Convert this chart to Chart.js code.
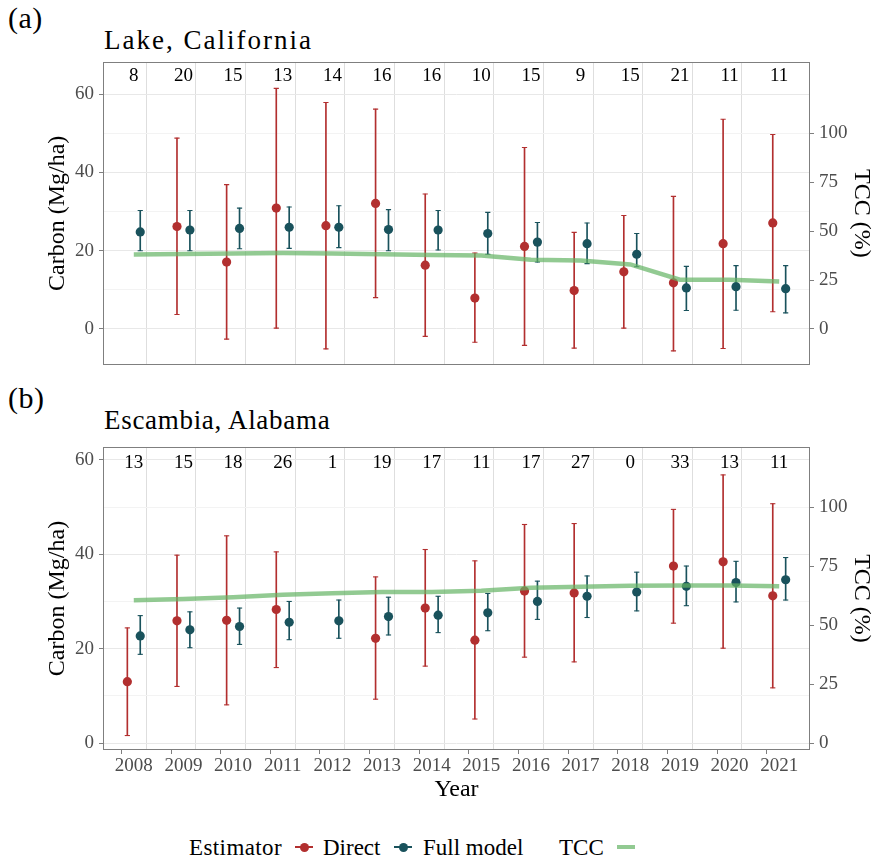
<!DOCTYPE html>
<html>
<head>
<meta charset="utf-8">
<script src="https://cdn.jsdelivr.net/npm/chart.js@4.4.1/dist/chart.umd.min.js"></script>
<style>
  body { margin:0; background:#fff; }
  #wrap { position:relative; width:881px; height:862px; font-family:'Liberation Serif', serif; color:#000; overflow:hidden; }
  .t { position:absolute; white-space:nowrap; line-height:1em; font-family:'Liberation Serif', serif; }
  canvas { position:absolute; left:0; }
  .key { position:absolute; width:18px; height:10px; }
  .key .ln { position:absolute; left:0; right:0; top:4.4px; height:1.2px; }
  .key .dt { position:absolute; left:4.5px; top:0.5px; width:9px; height:9px; border-radius:50%; }
</style>
</head>
<body>
<div id="wrap">
  <div class="t" style="left:8px;top:3px;font-size:30px;letter-spacing:0.5px">(a)</div>
  <div class="t" style="left:104px;top:27px;font-size:27px;letter-spacing:2px">Lake, California</div>
  <canvas id="ca" width="881" height="380" style="top:0px"></canvas>
  <div class="t" style="left:8px;top:383px;font-size:30px;letter-spacing:0.5px">(b)</div>
  <div class="t" style="left:104px;top:407px;font-size:27px;letter-spacing:0.7px">Escambia, Alabama</div>
  <canvas id="cb" width="881" height="430" style="top:380px"></canvas>

  <div class="t" style="left:189px;top:836px;font-size:23px;letter-spacing:0.4px">Estimator</div>
  <div class="key" style="left:295px;top:842px"><div class="ln" style="background:#b22f2f"></div><div class="dt" style="background:#b22f2f"></div></div>
  <div class="t" style="left:323px;top:836px;font-size:23px">Direct</div>
  <div class="key" style="left:394px;top:842px"><div class="ln" style="background:#19525c"></div><div class="dt" style="background:#19525c"></div></div>
  <div class="t" style="left:423px;top:836px;font-size:23px">Full model</div>
  <div class="t" style="left:559px;top:836px;font-size:23px">TCC</div>
  <div class="key" style="left:617px;top:842px"><div class="ln" style="background:rgba(100,180,100,0.7);top:3px;height:4px"></div></div>
</div>
<script>
// ---------------- data ----------------
const years = [2008,2009,2010,2011,2012,2013,2014,2015,2016,2017,2018,2019,2020,2021];

// Panel (a) Lake, California
const countsA   = [8,20,15,13,14,16,16,10,15,9,15,21,11,11];
const directA   = [null,26.2,17.1,30.9,26.4,32.1,16.3,7.9,21.1,9.8,14.6,11.8,21.8,27.1];
const directLoA = [null,3.7,-2.6,0.2,-5.1,8.0,-1.9,-3.4,-4.2,-4.9,0.2,-5.6,-5.0,4.4];
const directHiA = [null,48.8,36.9,61.5,57.9,56.2,34.5,19.4,46.4,24.7,29.0,33.9,53.6,49.7];
const fullA     = [24.8,25.3,25.7,26.0,26.0,25.4,25.3,24.4,22.2,21.8,19.1,10.5,10.8,10.3];
const fullLoA   = [20.0,20.0,20.5,20.6,20.8,20.0,20.2,19.1,17.1,16.7,15.9,4.7,4.8,4.1];
const fullHiA   = [30.3,30.3,30.9,31.2,31.5,30.5,30.3,29.8,27.2,27.1,24.4,16.0,16.2,16.2];
const tccA      = [38.1,38.3,38.6,38.8,38.6,38.2,37.8,37.6,35.4,35.0,33.0,25.2,25.2,24.3];

// Panel (b) Escambia, Alabama
const countsB   = [13,15,18,26,1,19,17,11,17,27,0,33,13,11];
const directB   = [13.0,25.9,26.0,28.3,null,22.2,28.6,21.8,32.2,31.8,null,37.5,38.4,31.2];
const directLoB = [1.6,12.0,8.1,16.0,null,9.3,16.3,5.1,18.2,17.2,null,25.4,20.1,11.7];
const directHiB = [24.4,39.8,43.9,40.5,null,35.2,41.0,38.6,46.3,46.5,null,49.5,56.8,50.7];
const fullB     = [22.7,24.0,24.7,25.6,25.9,26.8,27.1,27.6,30.0,31.1,32.0,33.2,34.0,34.6];
const fullLoB   = [18.8,20.2,20.9,21.9,22.2,22.9,23.4,23.8,26.2,26.6,28.0,29.1,29.9,30.3];
const fullHiB   = [27.0,27.8,28.6,30.0,30.3,30.9,31.1,31.7,34.3,35.4,36.2,37.5,38.5,39.3];
const tccB      = [60.5,61.0,61.8,62.8,63.5,64.0,64.0,64.5,65.8,66.2,66.6,66.8,66.8,66.4];

// tick labels
const carbonTicks = [0,20,40,60];
const carbonMinorTicks = [10,30,50];
const tccTicks = [0,25,50,75,100];

// ---------------- styling ----------------
const RED = '#b22f2f';
const TEAL = '#19525c';
const GREEN = 'rgba(100,180,100,0.7)';
const FONT = 'Liberation Serif';
const TICKCOL = '#4d4d4d';
const AXCOL = '#7f7f7f';
const DODGE = 0.13;
const TCC_FACTOR = 2;

Chart.defaults.font.family = FONT;
Chart.defaults.animation = false;

function pts(vals, off) {
  const out = [];
  vals.forEach((v, i) => { if (v !== null) out.push({x: years[i] + off, y: v}); });
  return out;
}
function bars(lo, hi, off) {
  const out = [];
  lo.forEach((v, i) => { if (v !== null) out.push({x: years[i] + off, y: [v, hi[i]]}); });
  return out;
}
function caps(lo, hi, off) {
  return pts(lo, off).concat(pts(hi, off));
}

const boxPlugin = {
  id: 'panelBox',
  afterDraw(chart) {
    const {ctx, chartArea: a} = chart;
    ctx.save();
    ctx.strokeStyle = AXCOL;
    ctx.lineWidth = 1;
    ctx.strokeRect(Math.round(a.left) - 0.5, Math.round(a.top) - 0.5,
                   Math.round(a.right - a.left) + 1, Math.round(a.bottom - a.top) + 1);
    ctx.restore();
  }
};
const countPlugin = {
  id: 'counts',
  afterDatasetsDraw(chart, args, opts) {
    const {ctx} = chart;
    const xs = chart.scales.x, ys = chart.scales.y;
    ctx.save();
    ctx.font = '19px "' + FONT + '"';
    ctx.fillStyle = '#000';
    ctx.textAlign = 'center';
    ctx.textBaseline = 'middle';
    opts.counts.forEach((c, i) => {
      ctx.fillText(String(c), xs.getPixelForValue(years[i]), ys.getPixelForValue(opts.y));
    });
    ctx.restore();
  }
};

function makePanel(id, d, cfg) {
  const xTickVals = years.concat(years.slice(0, -1).map(y => y + 0.5)).sort((a, b) => a - b);
  const leftGrid = carbonTicks.concat(carbonMinorTicks).sort((a, b) => a - b)
                   .filter(v => v >= cfg.yMin && v <= cfg.yMax);
  const tickFont = {family: FONT, size: 19};
  const titleFont = {family: FONT, size: 24};
  return new Chart(document.getElementById(id), {
    type: 'scatter',
    data: {
      datasets: [
        {type: 'line', label: 'TCC', data: pts(d.tcc, 0), yAxisID: 'y2', xAxisID: 'x',
         borderColor: GREEN, borderWidth: 4.5, pointRadius: 0, fill: false, tension: 0, order: 0},
        {type: 'scatter', label: 'Direct', data: pts(d.direct, -DODGE), yAxisID: 'y',
         backgroundColor: RED, borderColor: RED, borderWidth: 0, pointRadius: 4.6, order: 1},
        {type: 'scatter', label: 'Full model', data: pts(d.full, DODGE), yAxisID: 'y',
         backgroundColor: TEAL, borderColor: TEAL, borderWidth: 0, pointRadius: 4.6, order: 1},
        {type: 'scatter', label: 'capsD', data: caps(d.directLo, d.directHi, -DODGE), yAxisID: 'y',
         pointStyle: 'line', pointRadius: 2.6, borderColor: RED, borderWidth: 1.1, order: 2},
        {type: 'scatter', label: 'capsF', data: caps(d.fullLo, d.fullHi, DODGE), yAxisID: 'y',
         pointStyle: 'line', pointRadius: 2.6, borderColor: TEAL, borderWidth: 1.1, order: 2},
        {type: 'bar', label: 'barsD', data: bars(d.directLo, d.directHi, -DODGE), yAxisID: 'y', xAxisID: 'x',
         backgroundColor: RED, borderWidth: 0, barThickness: 1.0, grouped: false, order: 3},
        {type: 'bar', label: 'barsF', data: bars(d.fullLo, d.fullHi, DODGE), yAxisID: 'y', xAxisID: 'x',
         backgroundColor: TEAL, borderWidth: 0, barThickness: 1.0, grouped: false, order: 3}
      ]
    },
    options: {
      responsive: false,
      animation: false,
      events: [],
      layout: {padding: {left: 0, right: 0, top: cfg.padTop, bottom: cfg.padBottom}},
      plugins: {
        legend: {display: false},
        tooltip: {enabled: false},
        counts: {counts: d.counts, y: cfg.countY}
      },
      scales: {
        x: {
          type: 'linear', position: 'bottom', min: 2007.4, max: 2021.6, offset: false,
          afterBuildTicks: s => { s.ticks = xTickVals.map(v => ({value: v})); },
          afterFit: s => { s.height = cfg.showX ? cfg.xHeight : 0; },
          border: {display: false},
          grid: {
            color: c => (c.tick && !Number.isInteger(c.tick.value)) ? '#dedede' : 'rgba(0,0,0,0)',
            tickColor: c => (c.tick && Number.isInteger(c.tick.value)) ? AXCOL : 'rgba(0,0,0,0)',
            lineWidth: 1, tickLength: 5, drawTicks: cfg.showX
          },
          ticks: {
            display: cfg.showX, autoSkip: false, maxRotation: 0, minRotation: 0, padding: 1,
            font: tickFont, color: TICKCOL,
            callback: v => Number.isInteger(v) ? String(v) : ''
          },
          title: {display: cfg.showX, text: 'Year', font: titleFont, color: '#000', padding: {top: 0, bottom: 6}}
        },
        y: {
          type: 'linear', position: 'left', min: cfg.yMin, max: cfg.yMax,
          afterBuildTicks: s => { s.ticks = leftGrid.map(v => ({value: v})); },
          afterFit: s => { s.width = 104; },
          border: {display: false},
          grid: {
            color: c => (c.tick && carbonTicks.includes(c.tick.value)) ? '#e8e8e8' : '#f3f3f3',
            tickColor: c => (c.tick && carbonTicks.includes(c.tick.value)) ? AXCOL : 'rgba(0,0,0,0)',
            lineWidth: 1, tickLength: 5
          },
          ticks: {
            padding: 5, font: tickFont, color: TICKCOL,
            callback: v => carbonTicks.includes(v) ? String(v) : ''
          },
          title: {display: true, text: 'Carbon (Mg/ha)', font: titleFont, color: '#000', padding: {top: 43, bottom: 0}}
        },
        y2: {
          type: 'linear', position: 'right', min: cfg.yMin * TCC_FACTOR, max: cfg.yMax * TCC_FACTOR,
          afterBuildTicks: s => { s.ticks = tccTicks.map(v => ({value: v})); },
          afterFit: s => { s.width = 72; },
          border: {display: false},
          grid: {drawOnChartArea: false, tickColor: AXCOL, tickLength: 5, lineWidth: 1},
          ticks: {padding: 5, font: tickFont, color: TICKCOL, callback: v => String(v)},
          title: {display: true, text: 'TCC (%)', font: titleFont, color: '#000', padding: {top: 5, bottom: 0}}
        }
      }
    },
    plugins: [boxPlugin, countPlugin]
  });
}

makePanel('ca',
  {counts: countsA, direct: directA, directLo: directLoA, directHi: directHiA,
   full: fullA, fullLo: fullLoA, fullHi: fullHiA, tcc: tccA},
  {yMin: -8.86, yMax: 68.0, countY: 64.7, padTop: 63, padBottom: 16, showX: false, xHeight: 0});

makePanel('cb',
  {counts: countsB, direct: directB, directLo: directLoB, directHi: directHiB,
   full: fullB, fullLo: fullLoB, fullHi: fullHiB, tcc: tccB},
  {yMin: -1.25, yMax: 62.5, countY: 59.4, padTop: 68, padBottom: 0, showX: true, xHeight: 61});
</script>
</body>
</html>
